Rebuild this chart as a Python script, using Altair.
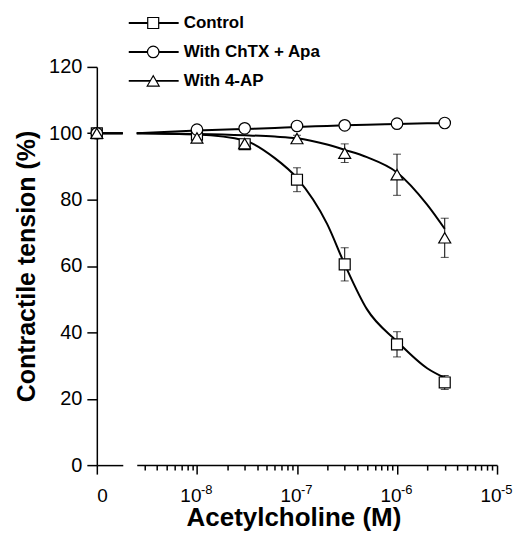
import altair as alt
import pandas as pd

FONT = "Liberation Sans"

SERIES = ["Control", "With ChTX + Apa", "With 4-AP"]
SHAPES = ["square", "circle", "triangle-up"]
SIZES = [121, 144, 169]

# dose-response data (M)
CONC = [1e-8, 3e-8, 1e-7, 3e-7, 1e-6, 3e-6]
CONTROL = [99.6, 96.7, 86.0, 60.5, 36.4, 24.9]
CONTROL_SEM = [0.3, 1.2, 3.6, 5.0, 3.8, 2.1]
CHTX = [101.1, 101.5, 102.2, 102.4, 102.9, 103.1]
CHTX_SEM = [0.5, 0.5, 0.5, 0.5, 0.5, 0.5]
AP4 = [98.6, 96.9, 98.4, 94.0, 87.5, 68.5]
AP4_SEM = [0.5, 1.0, 1.0, 2.8, 6.2, 5.9]
ZERO = [100, 100, 100]

# fitted curves
CURVE_X = [2.5e-9, 1e-8, 3e-8, 6e-8, 1e-7, 2e-7, 3e-7, 5e-7, 1e-6, 2e-6, 3e-6]
CONTROL_FIT = [100, 99.6, 97.8, 92.5, 86.5, 72.7, 60.5, 47.0, 37.3, 29.2, 26.3]
CHTX_FIT = [100, 100.8, 101.3, 101.6, 101.9, 102.2, 102.4, 102.6, 102.8, 103.0, 103.1]
AP4_FIT = [100, 99.8, 99.4, 99.0, 98.5, 96.6, 95.0, 92.8, 88.2, 78.5, 71.2]

MAJOR = [1e-8, 1e-7, 1e-6, 1e-5]
MAJOR_BASE = "10"
MAJOR_EXP = ["-8", "-7", "-6", "-5"]
MINOR = [m * k for m in [1e-9, 1e-8, 1e-7, 1e-6] for k in range(2, 10) if m * k > 2.5e-9]
Y_TICKS = [0, 20, 40, 60, 80, 100, 120]

H = 399
LEFT_W = 26
RIGHT_W = 361

# ---- tables
pts = pd.DataFrame({
    "series": sum([[s] * len(CONC) for s in SERIES], []),
    "conc": CONC * 3,
    "value": CONTROL + CHTX + AP4,
    "sem": CONTROL_SEM + CHTX_SEM + AP4_SEM,
})
pts["lo"] = pts["value"] - pts["sem"]
pts["hi"] = pts["value"] + pts["sem"]
pts["order"] = pts["series"].map({s: i for i, s in enumerate(SERIES)})

curves = pd.DataFrame({
    "series": sum([[s] * len(CURVE_X) for s in SERIES], []),
    "conc": CURVE_X * 3,
    "value": CONTROL_FIT + CHTX_FIT + AP4_FIT,
})

zero_df = pd.DataFrame({"series": SERIES, "dose": [0] * 3, "value": ZERO})
leg_df = pd.DataFrame({"series": SERIES})
exp_df = pd.DataFrame({"conc": MAJOR, "exp": MAJOR_EXP})

y_scale = alt.Scale(domain=[0, 120], nice=False, zero=False)
shape_scale = alt.Scale(domain=SERIES, range=SHAPES)
size_scale = alt.Scale(domain=SERIES, range=SIZES)

axis_common = dict(
    domainColor="black", domainWidth=1.5, tickColor="black", tickWidth=1.5,
    labelColor="black", labelFont=FONT, grid=False,
    titleFont=FONT, titleColor="black", titleFontWeight="bold",
)

y_axis = alt.Axis(values=Y_TICKS, tickSize=10, labelPadding=5, labelFontSize=20,
                  title="Contractile tension (%)", titleFontSize=25,
                  titlePadding=9, **axis_common)

point_style = dict(filled=True, fill="white", stroke="black", strokeWidth=1.2, opacity=1)

# ---- left panel (zero dose)
x0 = alt.X("dose:Q", scale=alt.Scale(domain=[0, 1], nice=False, zero=False),
           axis=alt.Axis(values=[0], labelExpr="'0'", tickSize=9, labelPadding=12,
                         labelFontSize=19, title=None, **axis_common))
left_rule = alt.Chart(zero_df).mark_rule(color="black", strokeWidth=2).encode(
    y=alt.Y("value:Q", scale=y_scale, axis=y_axis))
left_pts = alt.Chart(zero_df).mark_point(**point_style).encode(
    x=x0,
    y=alt.Y("value:Q", scale=y_scale, axis=y_axis),
    shape=alt.Shape("series:N", scale=shape_scale, legend=None),
    size=alt.Size("series:N", scale=size_scale, legend=None),
)
left = alt.layer(left_rule, left_pts).properties(width=LEFT_W, height=H)

# ---- right panel (log axis)
major_test = "abs(log(datum.value)/LN10 - round(log(datum.value)/LN10)) < 0.001"
label_expr = f"{major_test} ? '{MAJOR_BASE}' : ''"

x_scale = alt.Scale(type="log", domain=[2.5e-9, 1e-5], nice=False)
x_axis = alt.Axis(values=sorted(MAJOR + MINOR), labelExpr=label_expr,
                  tickSize={"condition": {"test": major_test, "value": 9}, "value": 5},
                  labelPadding=12, labelFontSize=19, labelAlign="right", labelOffset=4,
                  labelFlush=False, labelOverlap=False,
                  title="Acetylcholine (M)", titleFontSize=26, titlePadding=0,
                  titleX=157, titleAlign="center", **axis_common)

xr = alt.X("conc:Q", scale=x_scale, axis=x_axis)
yr = alt.Y("value:Q", scale=y_scale, axis=None)

lines = alt.Chart(curves).mark_line(color="black", strokeWidth=2, interpolate="monotone").encode(
    x=xr, y=yr, detail="series:N")
bars = alt.Chart(pts).mark_rule(color="black", strokeWidth=1).encode(
    x=alt.X("conc:Q", scale=x_scale, axis=x_axis),
    y=alt.Y("lo:Q", scale=y_scale, axis=None), y2="hi:Q")
caps_lo = alt.Chart(pts).mark_tick(color="black", orient="horizontal", size=8, thickness=1).encode(
    x=alt.X("conc:Q", scale=x_scale, axis=x_axis), y=alt.Y("lo:Q", scale=y_scale, axis=None))
caps_hi = alt.Chart(pts).mark_tick(color="black", orient="horizontal", size=8, thickness=1).encode(
    x=alt.X("conc:Q", scale=x_scale, axis=x_axis), y=alt.Y("hi:Q", scale=y_scale, axis=None))
marks = alt.Chart(pts).mark_point(**point_style).encode(
    x=xr, y=yr,
    shape=alt.Shape("series:N", scale=shape_scale, legend=None),
    size=alt.Size("series:N", scale=size_scale, legend=None),
    order="order:Q",
)
exps = alt.Chart(exp_df).mark_text(align="left", baseline="alphabetic", font=FONT,
                                   fontSize=13, color="black", dx=4).encode(
    x=alt.X("conc:Q", scale=x_scale, axis=x_axis), y=alt.value(H + 29), text="exp:N")
data_layers = alt.layer(lines, bars, caps_lo, caps_hi, marks, exps)

leg_y = alt.Y("series:N", scale=alt.Scale(type="point", domain=SERIES, range=[-44, 14], padding=0),
              axis=None)
leg_rule = alt.Chart(leg_df).mark_rule(color="black", strokeWidth=2).encode(
    x=alt.value(-8), x2=alt.value(42), y=leg_y)
leg_pts = alt.Chart(leg_df).mark_point(**point_style).encode(
    x=alt.value(16.5), y=leg_y,
    shape=alt.Shape("series:N", scale=shape_scale, legend=None),
    size=alt.Size("series:N", scale=size_scale, legend=None),
)
leg_txt = alt.Chart(leg_df).mark_text(align="left", baseline="middle", font=FONT,
                                      fontSize=17, fontWeight="bold", color="black").encode(
    x=alt.value(47), y=leg_y, text="series:N")
legend_layers = alt.layer(leg_rule, leg_pts, leg_txt)

right = alt.layer(data_layers, legend_layers).resolve_scale(y="independent").properties(
    width=RIGHT_W, height=H)

chart = alt.hconcat(left, right, spacing=14, bounds="flush").properties(
    padding={"left": 6, "top": 5.5, "right": 0, "bottom": 0}
).configure(background="white").configure_view(stroke=None)

chart.save("out.html", embed_options={"renderer": "svg", "actions": False})
